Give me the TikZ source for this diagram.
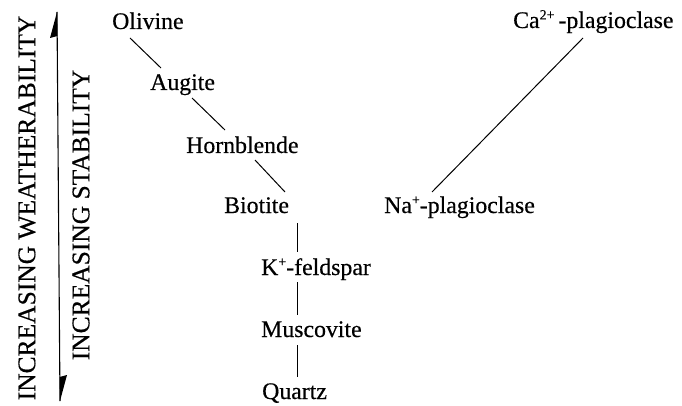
\documentclass[tikz,border=0pt]{standalone}
\usepackage{fontspec}
\setmainfont[FakeBold=0.4]{Liberation Serif}
\newcommand{\ionsup}[1]{\raisebox{0.36em}{\fontsize{14}{14}\selectfont #1}}
\begin{document}
\begin{tikzpicture}[x=1pt,y=-1pt,
  mineral/.style={anchor=base west,inner sep=0pt,font=\fontsize{23.8}{27}\selectfont},
  axislabel/.style={rotate=90,inner sep=0pt,font=\fontsize{25.5}{28}\selectfont},
  link/.style={line width=1pt}]
\useasboundingbox (0,0) rectangle (682,406);

% discontinuous (Fe-Mg) series
\node[mineral] (ol)  at (112,29)  {Olivine};
\node[mineral] (aug) at (150,90)  {Augite};
\node[mineral] (hb)  at (186,153) {Hornblende};
\node[mineral] (bt)  at (224,213) {Biotite};
% common tail
\node[mineral] (kf)  at (261,275) {K\ionsup{+}-feldspar};
\node[mineral] (ms)  at (261,337) {Muscovite};
\node[mineral] (qz)  at (262,399) {Quartz};
% continuous (plagioclase) series
\node[mineral] (ca)  at (513,28)  {Ca\ionsup{2+}\,-plagioclase};
\node[mineral] (na)  at (384,213) {Na\ionsup{+}-plagioclase};

\draw[link] ([shift={(18,9)}]ol.base west)  -- ([shift={(11,-22)}]aug.base west);
\draw[link] ([shift={(42,8)}]aug.base west) -- ([shift={(39,-23)}]hb.base west);
\draw[link] ([shift={(69,7)}]hb.base west)  -- ([shift={(61,-21)}]bt.base west);
\draw[link] ([shift={(73,10)}]bt.base west) -- ([shift={(36,-23)}]kf.base west);
\draw[link] ([shift={(36,7)}]kf.base west)  -- ([shift={(36,-22)}]ms.base west);
\draw[link] ([shift={(36,8)}]ms.base west)  -- ([shift={(35,-22)}]qz.base west);
\draw[link] ([shift={(48,-21)}]na.base west) -- ([shift={(70,10)}]ca.base west);

% double-headed axis with half heads
\coordinate (up) at (57,12);
\coordinate (down) at (60,401);
\draw[line width=1.1pt] (up) -- (down);
\fill (up) -- ([shift={(-7,26)}]up) -- ([shift={(0.5,24)}]up) -- cycle;
\fill (down) -- ([shift={(7,-26)}]down) -- ([shift={(-0.5,-24)}]down) -- cycle;

\node[axislabel] (weath) at (27,208) {INCREASING WEATHERABILITY};
\node[axislabel] (stab)  at (81,215) {INCREASING STABILITY};
\end{tikzpicture}
\end{document}
